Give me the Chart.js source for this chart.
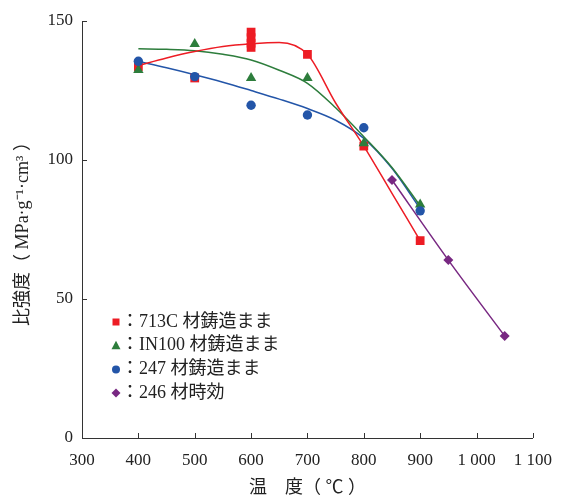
<!DOCTYPE html>
<html>
<head>
<meta charset="utf-8">
<script src="https://cdn.jsdelivr.net/npm/chart.js@4.4.0/dist/chart.umd.min.js"></script>
<style>
  body { margin: 0; background: #fff; }
</style>
</head>
<body>
<canvas id="myChart" width="564" height="500"></canvas>
<script>
// measured points (temperature, specific strength)
const temp713C = [400, 500, 600, 600, 600, 600, 700, 800, 900];
const vals713C = [133.6, 129.5, 146, 144, 142, 140.5, 138, 105, 71];

const tempIN100 = [400, 500, 600, 700, 800, 900];
const valsIN100 = [132.4, 141.7, 129.5, 129.5, 106, 84];

const temp247 = [400, 500, 600, 700, 800, 900];
const vals247 = [135.5, 130, 119.7, 116.2, 111.6, 81.7];

const temp246 = [850, 950, 1050];
const vals246 = [92.8, 64, 36.7];

// trend curves, every 50 degrees
const fitTemp = [400, 450, 500, 550, 600, 650, 700, 750, 800, 850, 900];
const fitVals713C = [134, 136.7, 139, 140.8, 141.8, 142.3, 138, 120.5, 105, 88, 71];
const fitValsIN100 = [140, 139.8, 139.3, 138, 136, 132.3, 127.6, 118.8, 108.4, 97.3, 83.5];
const fitVals247 = [135.5, 133.2, 130.7, 128, 125, 121.9, 118.5, 114.3, 107.8, 97, 82.5];

const xTicks = [300, 400, 500, 600, 700, 800, 900, 1000, 1100];
const yTicks = [0, 50, 100, 150];

const legendLabels = ["：713C 材鋳造まま", "：IN100 材鋳造まま", "：247 材鋳造まま", "：246 材時効"];

const fontFamily = '"Liberation Serif", "Noto Sans CJK JP", serif';
const axisColor = "#333";
const red = "rgb(237, 28, 36)";
const green = "rgb(45, 125, 60)";
const blue = "rgb(35, 85, 168)";
const purple = "rgb(120, 40, 130)";

function pts(xs, ys) {
  return xs.map((x, i) => ({ x: x, y: ys[i] }));
}

// inward tick marks
const innerTicks = {
  id: "innerTicks",
  afterDraw(chart) {
    const ctx = chart.ctx;
    const xs = chart.scales.x, ys = chart.scales.y;
    ctx.save();
    ctx.strokeStyle = axisColor;
    ctx.lineWidth = 1;
    ctx.beginPath();
    xTicks.forEach((v) => {
      const px = Math.round(xs.getPixelForValue(v)) + 0.5;
      ctx.moveTo(px, ys.bottom);
      ctx.lineTo(px, ys.bottom - 5);
    });
    yTicks.forEach((v) => {
      const py = Math.round(ys.getPixelForValue(v)) + 0.5;
      ctx.moveTo(xs.left, py);
      ctx.lineTo(xs.left + 5, py);
    });
    ctx.stroke();
    ctx.restore();
  },
};

// legend inside the plot, lower left
const innerLegend = {
  id: "innerLegend",
  afterDraw(chart) {
    const ctx = chart.ctx;
    const area = chart.chartArea;
    const styles = [
      { shape: "rect", color: red },
      { shape: "tri", color: green },
      { shape: "circle", color: blue },
      { shape: "diamond", color: purple },
    ];
    ctx.save();
    ctx.font = "18px " + fontFamily;
    ctx.textBaseline = "middle";
    legendLabels.forEach((label, i) => {
      const y = 322 + i * 23.7;
      const x = area.left + 34;
      const s = styles[i];
      ctx.fillStyle = s.color;
      ctx.beginPath();
      if (s.shape == "rect") {
        ctx.rect(x - 3.5, y - 3.5, 7, 7);
      } else if (s.shape == "tri") {
        ctx.moveTo(x, y - 5);
        ctx.lineTo(x + 4.5, y + 3.5);
        ctx.lineTo(x - 4.5, y + 3.5);
        ctx.closePath();
      } else if (s.shape == "circle") {
        ctx.arc(x, y, 4, 0, Math.PI * 2);
      } else {
        ctx.moveTo(x, y - 4.5);
        ctx.lineTo(x + 4.5, y);
        ctx.lineTo(x, y + 4.5);
        ctx.lineTo(x - 4.5, y);
        ctx.closePath();
      }
      ctx.fill();
      ctx.fillStyle = "#222";
      ctx.fillText(label, x + 5, y);
    });
    ctx.restore();
  },
};

const markerSets = [
  { label: "247", data: pts(temp247, vals247), pointStyle: "circle", pointRadius: 4.7, backgroundColor: blue, borderColor: blue, borderWidth: 0 },
  { label: "IN100", data: pts(tempIN100, valsIN100), pointStyle: "triangle", pointRadius: 6, backgroundColor: green, borderColor: green, borderWidth: 0 },
  { label: "713C", data: pts(temp713C, vals713C), pointStyle: "rect", pointRadius: 6.2, backgroundColor: red, borderColor: red, borderWidth: 0 },
  { label: "246", data: pts(temp246, vals246), pointStyle: "rectRot", pointRadius: 5, backgroundColor: purple, borderColor: purple, borderWidth: 0 },
];

const lineSets = [
  { label: "fit713C", data: pts(fitTemp, fitVals713C), borderColor: red },
  { label: "fitIN100", data: pts(fitTemp, fitValsIN100), borderColor: green },
  { label: "fit247", data: pts(fitTemp, fitVals247), borderColor: blue },
  { label: "fit246", data: pts(temp246, vals246), borderColor: purple },
].map((d) => Object.assign(d, {
  showLine: true,
  pointRadius: 0,
  borderWidth: 1.5,
  cubicInterpolationMode: "monotone",
  fill: false,
}));

const config = {
  type: "scatter",
  data: { datasets: markerSets.concat(lineSets) },
  options: {
    responsive: false,
    animation: false,
    layout: { padding: { top: 21, right: 29, left: 0, bottom: 0 } },
    plugins: {
      legend: { display: false },
      tooltip: { enabled: false },
    },
    scales: {
      x: {
        type: "linear",
        min: 300,
        max: 1100,
        afterBuildTicks: (scale) => { scale.ticks = xTicks.map((v) => ({ value: v })); },
        afterFit: (scale) => { scale.height = 62; },
        grid: { display: false, drawTicks: false },
        border: { display: true, color: axisColor, width: 1 },
        ticks: {
          padding: 12,
          color: "#222",
          font: { family: fontFamily, size: 17 },
          callback: (v) => String(v).replace(/\B(?=(\d{3})+(?!\d))/g, " "),
        },
        title: {
          display: true,
          text: "温　度（ ℃ ）",
          color: "#222",
          font: { family: fontFamily, size: 18 },
          padding: { top: 0, bottom: 1 },
        },
      },
      y: {
        type: "linear",
        min: 0,
        max: 150,
        afterBuildTicks: (scale) => { scale.ticks = yTicks.map((v) => ({ value: v })); },
        afterFit: (scale) => { scale.width = 82; },
        grid: { display: false, drawTicks: false },
        border: { display: true, color: axisColor, width: 1 },
        ticks: {
          padding: 9,
          color: "#222",
          font: { family: fontFamily, size: 17 },
        },
        title: {
          display: true,
          text: "比強度（ MPa·g⁻¹·cm³ ）",
          color: "#222",
          font: { family: fontFamily, size: 18 },
          padding: { top: 12, bottom: 0 },
        },
      },
    },
  },
  plugins: [innerTicks, innerLegend],
};

const myChart = new Chart(document.getElementById("myChart"), config);
</script>
</body>
</html>
